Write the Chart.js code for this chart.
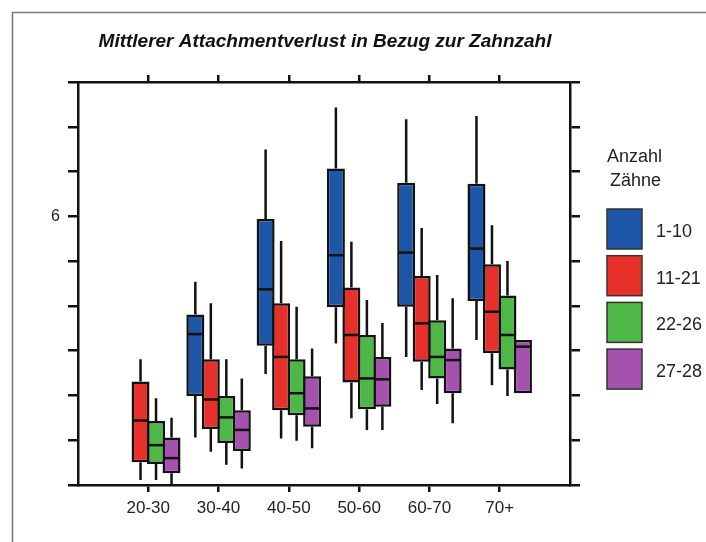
<!DOCTYPE html>
<html lang="de">
<head>
<meta charset="UTF-8" />
<script src="https://cdn.jsdelivr.net/npm/chart.js@4.4.1/dist/chart.umd.min.js"></script>
<style>
	html, body { margin: 0; padding: 0; background: #fff; }
	#wrap { width: 706px; height: 542px; position: relative; }
</style>
</head>
<body>
<div id="wrap"><canvas id="c" width="706" height="542"></canvas></div>
<script>
// age groups on the x axis
const categories = ['20-30', '30-40', '40-50', '50-60', '60-70', '70+']
// number of teeth groups (legend)
const seriesNames = ['1-10', '11-21', '22-26', '27-28']
const seriesColors = ['#1d56a7', '#e8302b', '#4db848', '#a452ad']
// box stats per age group: [min, q1, median, q3, max]
const teeth1to10 = [
	null,
	[1.06, 1.99, 3.37, 3.81, 4.54],
	[2.48, 3.11, 4.37, 5.94, 7.49],
	[3.16, 3.97, 5.13, 7.07, 8.43],
	[2.86, 3.98, 5.19, 6.75, 8.17],
	[3.24, 4.11, 5.28, 6.73, 8.24],
]
const teeth11to21 = [
	[0.11, 0.51, 1.44, 2.31, 2.81],
	[0.74, 1.25, 1.91, 2.81, 4.06],
	[1.04, 1.67, 2.86, 4.06, 5.45],
	[1.49, 2.29, 3.35, 4.41, 5.43],
	[2.12, 2.75, 3.61, 4.67, 5.74],
	[2.23, 2.94, 3.87, 4.93, 5.80],
]
const teeth22to26 = [
	[0.11, 0.47, 0.89, 1.43, 1.94],
	[0.45, 0.94, 1.51, 1.99, 2.81],
	[0.99, 1.56, 2.05, 2.81, 3.98],
	[1.23, 1.69, 2.38, 3.35, 4.13],
	[1.81, 2.38, 2.86, 3.68, 4.69],
	[1.99, 2.58, 3.35, 4.23, 5.00],
]
const teeth27to28 = [
	[0.02, 0.26, 0.60, 1.06, 1.50],
	[0.37, 0.76, 1.23, 1.67, 2.38],
	[0.82, 1.30, 1.71, 2.43, 3.05],
	[1.23, 1.75, 2.36, 2.86, 3.62],
	[1.38, 2.05, 2.79, 3.05, 4.17],
	[2.05, 2.05, 3.09, 3.24, 3.24],
]
const yTicks = [0, 1, 2, 3, 4, 5, 6, 7, 8, 9]
const yLabelShown = 6

const allStats = [teeth1to10, teeth11to21, teeth22to26, teeth27to28]
// one empty slot on each side of the groups
const labels = [''].concat(categories, [''])

const datasets = allStats.map((stats, i) => ({
	label: seriesNames[i],
	stats: [null].concat(stats, [null]),
	data: [null].concat(stats.map((s) => (s ? [s[1], s[3]] : null)), [null]),
	backgroundColor: seriesColors[i],
	borderColor: '#111',
	borderWidth: 2.5,
	borderSkipped: false,
	categoryPercentage: 0.882,
	barPercentage: 1.16,
}))

const endTick = (ctx) => (ctx.index === 0 || ctx.index === labels.length - 1 ? 'rgba(0,0,0,0)' : '#111')
const font = '"Liberation Sans", Arial, sans-serif'

const framePlugin = {
	id: 'frame',
	beforeDraw(chart) {
		const c = chart.ctx
		c.save()
		c.strokeStyle = '#777'
		c.lineWidth = 1.5
		c.beginPath()
		c.moveTo(12.5, 542)
		c.lineTo(12.5, 12.5)
		c.lineTo(706, 12.5)
		c.stroke()
		c.restore()
	},
}

// whiskers and median lines, placed with the chart's own scales
const boxPlugin = {
	id: 'whiskers',
	afterDatasetsDraw(chart) {
		const c = chart.ctx
		const y = chart.scales.y
		c.save()
		c.strokeStyle = '#111'
		chart.data.datasets.forEach((ds, di) => {
			const meta = chart.getDatasetMeta(di)
			meta.data.forEach((bar, i) => {
				const s = ds.stats[i]
				if (!s) return
				const x = bar.x
				const half = bar.width / 2
				c.lineWidth = 2.5
				c.beginPath()
				if (s[4] > s[3]) {
					c.moveTo(x, y.getPixelForValue(s[3]))
					c.lineTo(x, y.getPixelForValue(s[4]))
				}
				if (s[0] < s[1]) {
					c.moveTo(x, y.getPixelForValue(s[1]))
					c.lineTo(x, y.getPixelForValue(s[0]))
				}
				c.stroke()
				c.lineWidth = 2.5
				c.beginPath()
				const my = y.getPixelForValue(s[2])
				c.moveTo(x - half + 1, my)
				c.lineTo(x + half - 1, my)
				c.stroke()
			})
		})
		c.restore()
	},
}

// legend with title at the right
const legendPlugin = {
	id: 'boxLegend',
	afterDraw(chart) {
		const c = chart.ctx
		c.save()
		c.fillStyle = '#222'
		c.font = '18px ' + font
		c.textBaseline = 'middle'
		c.textAlign = 'left'
		c.fillText('Anzahl', 607, 157)
		c.fillText('Zähne', 610, 181)
		chart.data.datasets.forEach((ds, i) => {
			const top = 209 + i * 46.7
			c.fillStyle = ds.backgroundColor
			c.fillRect(607, top, 35, 40)
			c.strokeStyle = '#333'
			c.lineWidth = 1.5
			c.strokeRect(607, top, 35, 40)
			c.fillStyle = '#222'
			c.fillText(ds.label, 656, top + 23)
		})
		c.restore()
	},
}

new Chart(document.getElementById('c').getContext('2d'), {
	type: 'bar',
	data: { labels, datasets },
	plugins: [framePlugin, boxPlugin, legendPlugin],
	options: {
		responsive: false,
		animation: false,
		layout: { padding: { left: 38, right: 94, top: 24, bottom: 0 } },
		plugins: {
			legend: { display: false },
			tooltip: { enabled: false },
			title: {
				display: true,
				text: 'Mittlerer Attachmentverlust in Bezug zur Zahnzahl',
				color: '#111',
				font: { family: font, size: 19, weight: 'bold', style: 'italic' },
				padding: { top: 6, bottom: 21.2 },
			},
		},
		scales: {
			x: {
				type: 'category',
				offset: false,
				grid: { offset: false, drawOnChartArea: false, tickLength: 7, lineWidth: 2.5, color: endTick },
				border: { display: true, color: '#111', width: 2.5 },
				ticks: { color: '#222', padding: 6, font: { family: font, size: 17 }, maxRotation: 0, autoSkip: false },
				afterFit: (s) => { s.height = 57 },
			},
			x2: {
				type: 'category',
				position: 'top',
				offset: false,
				grid: { offset: false, drawOnChartArea: false, tickLength: 7, lineWidth: 2.5, color: endTick },
				border: { display: true, color: '#111', width: 2.5 },
				ticks: { display: false },
				afterFit: (s) => { s.height = 8 },
			},
			y: {
				min: yTicks[0],
				max: yTicks[yTicks.length - 1],
				afterBuildTicks: (s) => { s.ticks = yTicks.map((v) => ({ value: v })) },
				grid: { drawOnChartArea: false, tickLength: 10, lineWidth: 2.5, color: '#111' },
				border: { display: true, color: '#111', width: 2.5 },
				ticks: {
					color: '#222',
					padding: 8,
					font: { family: font, size: 16 },
					callback: (v) => (v === yLabelShown ? String(v) : ''),
				},
				afterFit: (s) => { s.width = 40 },
			},
			y2: {
				position: 'right',
				min: yTicks[0],
				max: yTicks[yTicks.length - 1],
				afterBuildTicks: (s) => { s.ticks = yTicks.map((v) => ({ value: v })) },
				grid: { drawOnChartArea: false, tickLength: 10, lineWidth: 2.5, color: '#111' },
				border: { display: true, color: '#111', width: 2.5 },
				ticks: { display: false },
				afterFit: (s) => { s.width = 42 },
			},
		},
	},
})
</script>
</body>
</html>
